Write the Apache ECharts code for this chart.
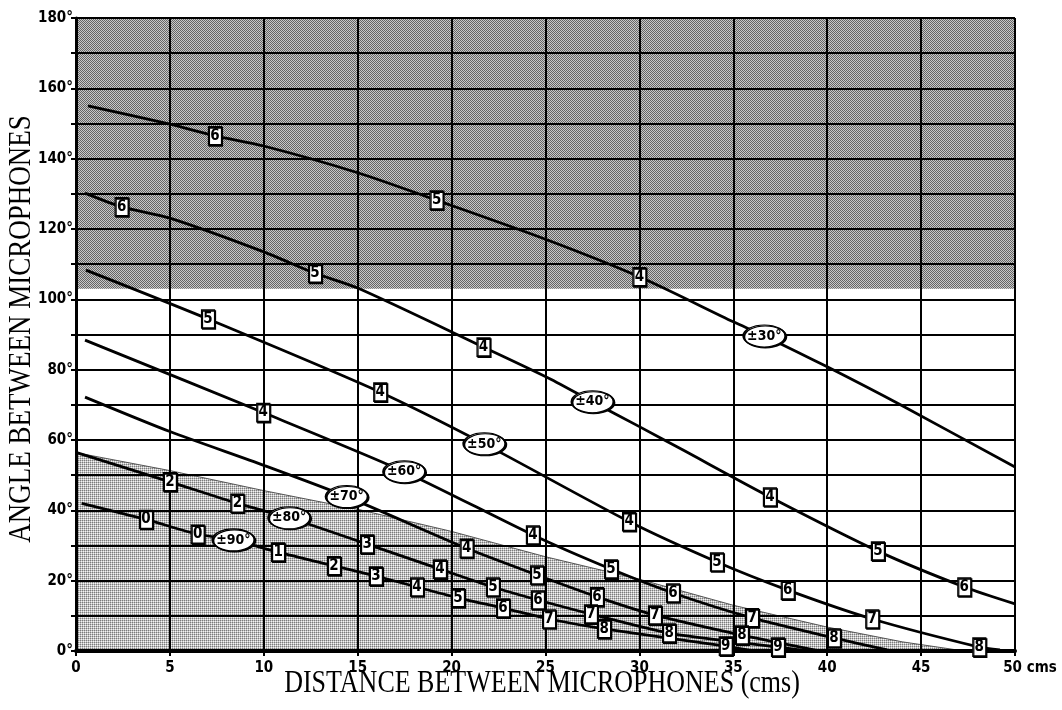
<!DOCTYPE html>
<html><head><meta charset="utf-8">
<script src="https://cdn.jsdelivr.net/npm/echarts@6/dist/echarts.min.js"></script>
<style>html,body{margin:0;padding:0;background:#fff}#c{width:1062px;height:710px}</style>
</head><body><div id="c"></div>
<script>
// ---- data (x: cm, y: degrees) ----
const xTicks = [0, 5, 10, 15, 20, 25, 30, 35, 40, 45, 50];
const yLabelStep = 20;

// dark "too wide" band: [x0, x1, y0, y1]
const darkBand = [0, 50, 103, 180];
// light shaded region upper edge
const shadeEdge = [[0,56.4],[5,51.3],[10,45.6],[15,40.3],[20,34],[25,26.8],[30,20.4],[35,13],[40,6.8],[44,2.6],[47.3,0]];

// curve trace points
const curve30 = [[0.64,155.0],[5,149.8],[10,143.6],[15,136.0],[25,117.1],[35,93.6],[40,80.8],[43.9,70.0],[50,52.3]];
const curve40 = [[0.48,130.2],[5,123.1],[10,113.5],[15,103.2],[25.2,77.5],[30,63.8],[32.3,57.2],[50,13.4]];
const curve50 = [[0.53,108.3],[49.2,0.3]];
const curve60 = [[0.48,88.4],[43.2,0.3]];
const curve70 = [[0.48,72.2],[5,62.4],[10,52.8],[39.5,0.1]];
const curve80 = [[0.04,56.4],[38.8,0.1]];
const curve90 = [[0.3,42.0],[36.0,0.1]];

// numbered boxes on curves [x, y, text]
const boxes30 = [[7.4,146.5,'6'],[19.2,128.2,'5'],[30,106.4,'4']];
const boxes40 = [[2.43,126.3,'6'],[12.73,107.4,'5'],[21.7,86.4,'4'],[36.95,43.8,'4'],[42.7,28.4,'5'],[47.3,18.2,'6']];
const boxes50 = [[7.03,94.4,'5'],[16.2,73.6,'4'],[29.45,36.8,'4'],[34.13,25.3,'5'],[37.9,17.3,'6'],[42.4,9.1,'7'],[48.1,1.1,'8']];
const boxes60 = [[9.97,67.8,'4'],[24.33,33.0,'4'],[28.49,23.3,'5'],[31.79,16.5,'6'],[36.0,9.4,'7'],[40.36,3.7,'8']];
const boxes70 = [[20.8,29.2,'4'],[24.55,21.6,'5'],[27.74,15.4,'6'],[30.83,10.2,'7'],[35.46,4.5,'8']];
const boxes80 = [[5.0,48.1,'2'],[8.59,42.0,'2'],[15.5,30.4,'3'],[19.38,23.3,'4'],[22.2,18.2,'5'],[24.6,14.5,'6'],[27.42,10.5,'7'],[31.58,5.1,'8'],[37.38,1.1,'9']];
const boxes90 = [[3.73,37.4,'0'],[6.48,33.2,'0'],[10.76,28.1,'1'],[13.74,24.2,'2'],[15.97,21.3,'3'],[18.16,18.2,'4'],[20.34,15.1,'5'],[22.74,12.2,'6'],[25.19,9.1,'7'],[28.12,6.3,'8'],[34.6,1.4,'9']];

// oval curve names [x, y, text]
const ring30 = [36.65,89.6,'±30°'];
const ring40 = [27.5,70.9,'±40°'];
const ring50 = [21.74,58.9,'±50°'];
const ring60 = [17.47,51.0,'±60°'];
const ring70 = [14.41,43.9,'±70°'];
const ring80 = [11.35,37.9,'±80°'];
const ring90 = [8.38,31.6,'±90°'];

const curves = [
  [curve30, boxes30, ring30], [curve40, boxes40, ring40], [curve50, boxes50, ring50],
  [curve60, boxes60, ring60], [curve70, boxes70, ring70], [curve80, boxes80, ring80],
  [curve90, boxes90, ring90]
];

// ---- styling helpers ----
const NUM_FONT = "'Liberation Sans Narrow','DejaVu Sans Condensed','Roboto Condensed',sans-serif";
function pattern(rows){
  const h = rows.length, w = rows[0].length;
  const c = document.createElement('canvas'); c.width = w; c.height = h;
  const ctx = c.getContext('2d');
  for (let j = 0; j < h; j++) for (let i = 0; i < w; i++) { ctx.fillStyle = rows[j][i]; ctx.fillRect(i, j, 1, 1); }
  return {image: c, repeat: 'repeat'};
}
const darkFill = pattern([['#646464','#c8c8c8'],['#c8c8c8','#646464']]);
const lightFill = pattern([['#7c7c7c','#c0c0c0'],['#c0c0c0','#f4f4f4']]);

const series = [];
series.push({
  type: 'custom', z: 0, silent: true, data: [darkBand],
  renderItem: function(params, api){
    const a = api.coord([api.value(0), api.value(3)]);
    const b = api.coord([api.value(1), api.value(2)]);
    return {type: 'rect', shape: {x: a[0], y: a[1], width: b[0]-a[0], height: b[1]-a[1]}, style: {fill: darkFill}};
  }
});
series.push({
  type: 'line', z: 0, silent: true, data: shadeEdge, symbol: 'none', smooth: false,
  lineStyle: {color: '#555', width: 1}, areaStyle: {color: lightFill, opacity: 1}
});

const boxData = [], ringData = [];
curves.forEach(function(cv){
  const pts = cv[0].concat(cv[1].map(b => [b[0], b[1]]), [[cv[2][0], cv[2][1]]]);
  pts.sort((a, b) => a[0] - b[0]);
  series.push({type: 'line', z: 3, silent: true, data: pts, symbol: 'none', smooth: 0.25,
    lineStyle: {color: '#000', width: 2.8}});
  cv[1].forEach(b => boxData.push({value: [b[0], b[1]], name: b[2]}));
  ringData.push({value: [cv[2][0], cv[2][1]], name: cv[2][2]});
});
series.push({
  type: 'scatter', z: 5, silent: true, data: boxData, symbol: 'rect', symbolSize: [13, 18],
  itemStyle: {color: '#fff', borderColor: '#000', borderWidth: 1.4, shadowColor: '#000', shadowOffsetX: 1, shadowOffsetY: 1, shadowBlur: 0, opacity: 1},
  label: {show: true, position: 'inside', formatter: '{b}', color: '#000', fontSize: 15, fontWeight: 'bold', fontFamily: NUM_FONT}
});
series.push({
  type: 'scatter', z: 5, silent: true, data: ringData, symbol: 'circle', symbolSize: [42, 22],
  itemStyle: {color: '#fff', borderColor: '#000', borderWidth: 1.4, shadowColor: '#000', shadowOffsetX: 1, shadowOffsetY: 1, shadowBlur: 0, opacity: 1},
  label: {show: true, position: 'inside', formatter: '{b}', color: '#000', fontSize: 14, fontWeight: 'bold', fontFamily: NUM_FONT}
});

const chart = echarts.init(document.getElementById('c'), null, {renderer: 'canvas'});
chart.setOption({
  animation: false,
  backgroundColor: '#fff',
  grid: {left: 76, right: 47, top: 18, bottom: 59, containLabel: false, outerBoundsMode: 'none'},
  xAxis: {
    type: 'value', min: xTicks[0], max: xTicks[xTicks.length-1], interval: xTicks[1]-xTicks[0], z: 1,
    axisLine: {show: true, onZero: false, lineStyle: {color: '#000', width: 4}},
    axisTick: {show: true, length: 5, lineStyle: {color: '#000', width: 2}},
    splitLine: {show: true, lineStyle: {color: '#000', width: 2}},
    axisLabel: {
      margin: 10, color: '#000', fontSize: 15, fontWeight: 'bold', fontFamily: NUM_FONT,
      formatter: v => v === xTicks[xTicks.length-1] ? '{p|}' + v + ' cms' : String(v),
      rich: {p: {width: 30}}
    }
  },
  yAxis: {
    type: 'value', min: 0, max: 180, interval: 10, z: 1,
    axisLine: {show: true, onZero: false, lineStyle: {color: '#000', width: 3}},
    axisTick: {show: true, length: 5, lineStyle: {color: '#000', width: 2}},
    splitLine: {show: true, lineStyle: {color: '#000', width: 2}},
    axisLabel: {
      margin: 3, color: '#000', fontSize: 15, fontWeight: 'bold', fontFamily: NUM_FONT,
      formatter: v => v % yLabelStep === 0 ? v + '°' : ''
    }
  },
  graphic: [
    {type: 'text', x: 542, y: 684, scaleY: 1.22, silent: true,
     style: {text: 'DISTANCE BETWEEN MICROPHONES (cms)', font: "26px 'Liberation Serif','Times New Roman',serif", fill: '#000', textAlign: 'center', textVerticalAlign: 'middle'}},
    {type: 'text', x: 22, y: 329, rotation: Math.PI/2, scaleY: 1.17, silent: true,
     style: {text: 'ANGLE BETWEEN MICROPHONES', font: "27px 'Liberation Serif','Times New Roman',serif", fill: '#000', textAlign: 'center', textVerticalAlign: 'middle'}}
  ],
  series: series
});
</script></body></html>
